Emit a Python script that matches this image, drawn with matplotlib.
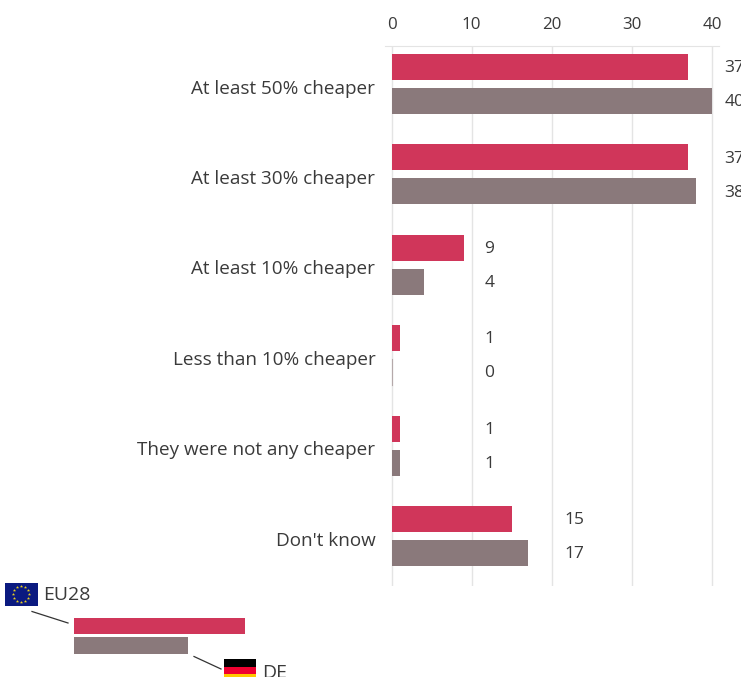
import numpy as np
import matplotlib
matplotlib.use("Agg")
import matplotlib.pyplot as plt
from matplotlib.patches import Rectangle
from matplotlib.transforms import ScaledTranslation

categories = ["At least 50% cheaper", "At least 30% cheaper", "At least 10% cheaper",
              "Less than 10% cheaper", "They were not any cheaper", "Don't know"]
eu28 = [37, 37, 9, 1, 1, 15]
de = [40, 38, 4, 0, 1, 17]
ticks = [0, 10, 20, 30, 40]
RED, GREY, TXT, GRID = "#d0365a", "#8a797b", "#3a3a3a", "#e4e4e4"
FONT = "Open Sans"
W, H = 741, 677
plt.rcParams["font.family"] = [FONT, "DejaVu Sans"]

fig = plt.figure(figsize=(W/100, H/100), dpi=100, facecolor="white")
L, R, T, B = 385, 719, 46, 586
ax = fig.add_axes([L/W, 1-B/H, (R-L)/W, (B-T)/H])
ax.set_xlim((L-391.6)/8.01, (R-391.6)/8.01)
ax.set_ylim((B-84)/90.4, (T-84)/90.4)
y = np.arange(len(categories))
h, off = 26/90.4, 17/90.4
ax.barh(y-off, eu28, h, color=RED, zorder=3)
ax.barh(y+off, de, h, color=GREY, zorder=3)
ax.plot([0, 0], [y[3]+off-h/2, y[3]+off+h/2], color="#b5a9aa", lw=0.8, zorder=3)
for s in ax.spines.values():
    s.set_visible(False)
ax.spines["top"].set_visible(True)
ax.spines["top"].set_color(GRID)
ax.xaxis.tick_top()
ax.set_xticks(ticks)
ax.tick_params(axis="x", length=0, pad=9.5, labelsize=12.2, colors=TXT)
ax.tick_params(axis="y", length=0, pad=7, labelsize=13.6, colors=TXT)
ax.set_yticks(y, categories)
down = ScaledTranslation(0, -2.5/100, fig.dpi_scale_trans)
for lbl in ax.get_yticklabels():
    lbl.set_transform(lbl.get_transform() + down)
ax.grid(axis="x", color=GRID, lw=1, zorder=0)
ax.set_axisbelow(True)
for i in y:
    xpos = np.ceil(max(eu28[i], de[i], 1)/10)*10
    for yy, v in ((i-off, eu28[i]), (i+off, de[i])):
        ax.annotate(str(v), (xpos, yy), xytext=(9.0, -0.8), textcoords="offset points",
                    va="center", ha="left", fontsize=12.5, color=TXT, annotation_clip=False)

# pixel-space legend
px = fig.add_axes([0, 0, 1, 1], zorder=5)
px.set_xlim(0, W); px.set_ylim(H, 0); px.axis("off")
px.add_patch(Rectangle((74, 618), 171, 16.4, color=RED, lw=0))
px.add_patch(Rectangle((74, 637.4), 114, 16.6, color=GREY, lw=0))
px.plot([32, 68], [611.5, 623], color="#333333", lw=0.9)
px.plot([194, 221], [656.5, 669], color="#333333", lw=0.9)
px.add_patch(Rectangle((5, 582.5), 32.7, 23.2, color="#0b1a80", lw=0))
ang = np.deg2rad(np.arange(12)*30)
px.scatter(21.3+8*np.cos(ang), 594+8*np.sin(ang), s=6, marker="*", color="#e8cf20", lw=0)
px.text(43.5, 595.5, "EU28", fontsize=14, color=TXT, va="center", ha="left")
px.add_patch(Rectangle((224, 659), 32, 7.6, color="black", lw=0))
px.add_patch(Rectangle((224, 666.6), 32, 7.6, color="#f00030", lw=0))
px.add_patch(Rectangle((224, 674.2), 32, 3, color="#ffc800", lw=0))
px.text(262, 673, "DE", fontsize=14, color=TXT, va="center", ha="left")
fig.savefig("out.png", dpi=100)
